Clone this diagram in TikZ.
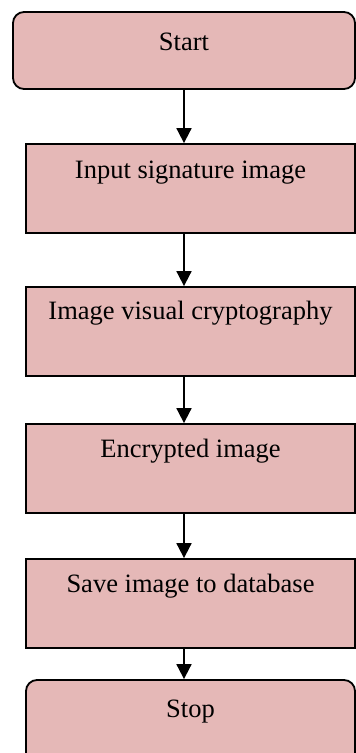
\documentclass[tikz,border=0pt]{standalone}
\usepackage{fontspec}
\setmainfont{Liberation Serif}
\usetikzlibrary{arrows.meta}
\definecolor{boxfill}{HTML}{E5B8B7}
\begin{document}
\begin{tikzpicture}[x=1pt,y=-1pt,
  box/.style={draw=black, fill=boxfill, line width=1.8pt, rectangle, inner sep=0pt},
  rbox/.style={box, rounded corners=11pt},
  lbl/.style={font=\fontsize{26.5}{30}\selectfont, inner sep=0pt, anchor=center},
  arr/.style={line width=1.8pt, -{Triangle[width=15pt,length=15pt]}}]
\useasboundingbox (0,0) rectangle (356,753);
\clip (0,0) rectangle (356,753);
\node[rbox, minimum width=342pt, minimum height=77pt] (s) at (184,50.5) {};
\node[lbl] (st) at ([yshift=-31pt]s.north) {Start};
\node[box, minimum width=329pt, minimum height=89pt] (b1) at (190.5,188.5) {};
\node[lbl] (t1) at ([yshift=-29pt]b1.north) {Input signature image};
\node[box, minimum width=329pt, minimum height=89pt] (b2) at (190.5,331.5) {};
\node[lbl] (t2) at ([yshift=-27pt]b2.north) {Image visual cryptography};
\node[box, minimum width=329pt, minimum height=89pt] (b3) at (190.5,468.5) {};
\node[lbl] (t3) at ([yshift=-28pt]b3.north) {Encrypted image};
\node[box, minimum width=329pt, minimum height=89pt] (b4) at (190.5,603.5) {};
\node[lbl] (t4) at ([yshift=-28pt]b4.north) {Save image to database};
\node[rbox, minimum width=329pt, minimum height=84pt] (e) at (190.5,722) {};
\node[lbl] (et) at ([yshift=-32pt]e.north) {Stop};
\draw[arr] (s.south) -- (s.south |- b1.north);
\draw[arr] (s.south |- b1.south) -- (s.south |- b2.north);
\draw[arr] (s.south |- b2.south) -- (s.south |- b3.north);
\draw[arr] (s.south |- b3.south) -- (s.south |- b4.north);
\draw[arr] (s.south |- b4.south) -- (s.south |- e.north);
\end{tikzpicture}
\end{document}
